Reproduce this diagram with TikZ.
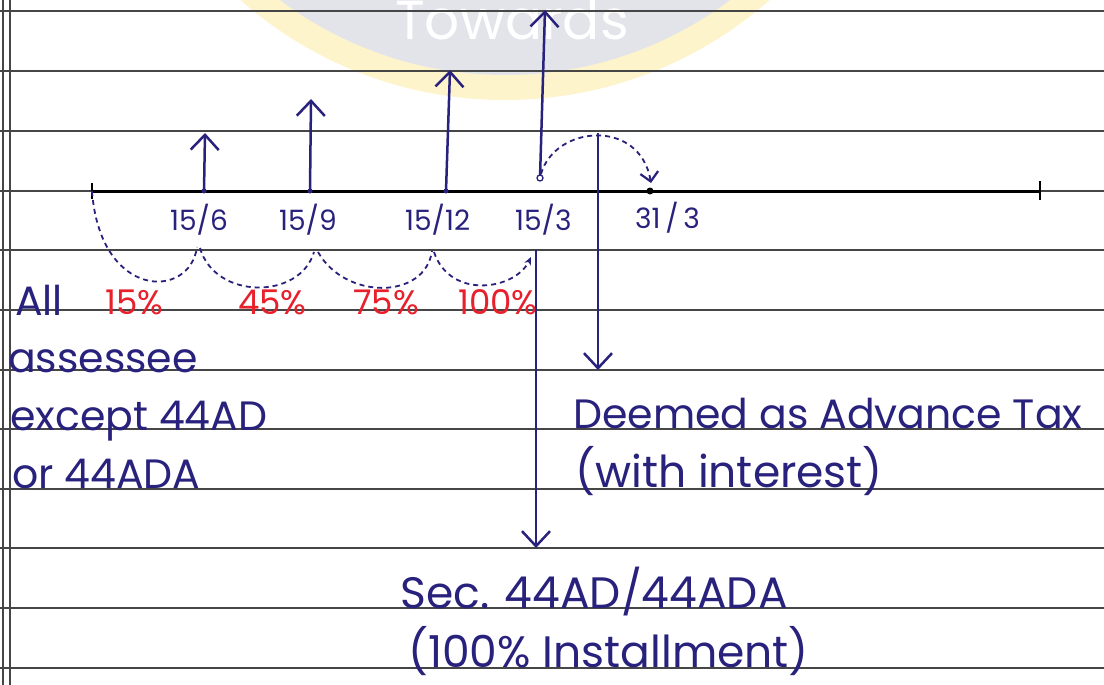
\documentclass[tikz,border=0pt]{standalone}
\usepackage{fontspec}
\setmainfont{Poppins}
\usetikzlibrary{arrows.meta,calc}
\definecolor{ink}{RGB}{40,34,125}
\definecolor{redink}{RGB}{232,32,44}
\definecolor{rulegray}{RGB}{70,70,70}
\definecolor{wmgray}{RGB}{227,228,234}
\definecolor{wmyellow}{RGB}{253,244,204}
\begin{document}
\begin{tikzpicture}[x=1pt,y=-1pt,
  ruleline/.style={draw=rulegray,line width=1.1pt},
  axisline/.style={draw=black,line width=3pt},
  inkarrow/.style={draw=ink,line width=2.5pt,-{Straight Barb[length=15pt,width=28pt,line width=2.5pt]}},
  dashcurve/.style={draw=ink,line width=1.8pt,dash pattern=on 5pt off 4pt},
  datelbl/.style={text=ink,inner sep=0pt,anchor=base west,font=\fontsize{28}{30}\selectfont},
  pctlbl/.style={text=redink,inner sep=0pt,anchor=base west,font=\fontsize{34}{36}\selectfont},
  notelbl/.style={text=ink,inner sep=0pt,anchor=base west,font=\fontsize{41}{44}\selectfont},
  biglbl/.style={text=ink,inner sep=0pt,anchor=base west,font=\fontsize{44}{46}\selectfont}]
\useasboundingbox (0,0) rectangle (1104,685);
\fill[white] (0,0) rectangle (1104,685);
% watermark
\begin{scope}
\clip (0,0) rectangle (1104,685);
\fill[wmyellow] (505,-300) circle [radius=400];
\fill[wmgray] (505,-300) circle [radius=375];
\node[text=white,inner sep=0pt,anchor=base,font=\fontsize{55}{55}\selectfont] (wm) at (512,40) {Towards};
\end{scope}
% ruled paper
\foreach \yy in {11,71,131,191,250,310,370,429,489,548,608,668}
  \draw[ruleline] (0,\yy) -- (1104,\yy);
\draw[ruleline] (3,0) -- (3,685);
\draw[ruleline] (10,0) -- (10,685);
% timeline
\coordinate (t0) at (92,191);
\coordinate (p1) at (204,191);
\coordinate (p2) at (310,191);
\coordinate (p3) at (446,191);
\coordinate (p4) at (540,191);
\coordinate (p5) at (650,191);
\coordinate (tend) at (1040,191);
\draw[axisline] (t0) -- (tend);
\draw[draw=black,line width=2.5pt] (92,183) -- (92,199);
\draw[draw=black,line width=2.5pt] (1040,181) -- (1040,200);
% up arrows
\coordinate (a1) at (205,133);
\coordinate (a2) at (311,99);
\coordinate (a3) at (450,70);
\coordinate (a4) at (545,10);
\draw[inkarrow] (p1) -- (a1);
\draw[inkarrow] (p2) -- (a2);
\draw[inkarrow] (p3) -- (a3);
\draw[inkarrow] ($(p4)+(0,-13)$) -- (a4);
\fill[ink] (p1) circle [radius=2.5];
\fill[ink] (p2) circle [radius=2.5];
\fill[ink] (p3) circle [radius=2.5];
\fill[black] (p5) circle [radius=3.5];
\draw[ink,line width=1.3pt,fill=white] (540,178) circle [radius=3];
% top dashed arc 15/3 -> 31/3
\coordinate (q0) at (541,174);
\draw[dashcurve,-{Straight Barb[length=9pt,width=18pt,line width=2.2pt]}] (q0) .. controls (555,125) and (640,118) .. (651,183);
% down arrows
\coordinate (d1s) at (598,133);
\coordinate (d1e) at (598,370);
\coordinate (d2s) at (536,250);
\coordinate (d2e) at (536,548);
\draw[inkarrow] (d1s) -- (d1e);
\draw[inkarrow] (d2s) -- (d2e);
% lower dashed arcs
\draw[dashcurve] (t0) .. controls (100,300) and (190,300) .. (197,247);
\draw[dashcurve] (200,248) .. controls (215,300) and (300,300) .. (314,252);
\draw[dashcurve] (318,252) .. controls (345,300) and (425,300) .. (432,251);
\draw[dashcurve,-{Stealth[length=8pt,width=7pt]}] (434,252) .. controls (450,300) and (515,290) .. (531,257);
% date labels
\node[datelbl] (l1) at (170,230) {15/6};
\node[datelbl] (l2) at (279,230) {15/9};
\node[datelbl] (l3) at (405,230) {15/12};
\node[datelbl] (l4) at (515,230) {15/3};
\node[datelbl] (l5) at (635,228) {31\,/\,3};
% percentages
\node[pctlbl] (c1) at (105,314) {15\%};
\node[pctlbl] (c2) at (238,314) {45\%};
\node[pctlbl] (c3) at (353,314) {75\%};
\node[pctlbl] (c4) at (458,314) {100\%};
% left notes
\node[notelbl] (n1) at (15,315) {All};
\node[notelbl] (n2) at (8,372) {assessee};
\node[notelbl] (n3) at (10,430) {except 44AD};
\node[notelbl] (n4) at (12,488) {or 44ADA};
% right notes
\node[notelbl] (r1) at (573,428) {Deemed as Advance Tax};
\node[biglbl] (r2) at (575,487) {(with interest)};
% bottom notes
\node[biglbl] (b1) at (400,608) {Sec. 44AD/44ADA};
\node[biglbl] (b2) at (408,667) {(100\% Installment)};
\end{tikzpicture}
\end{document}
